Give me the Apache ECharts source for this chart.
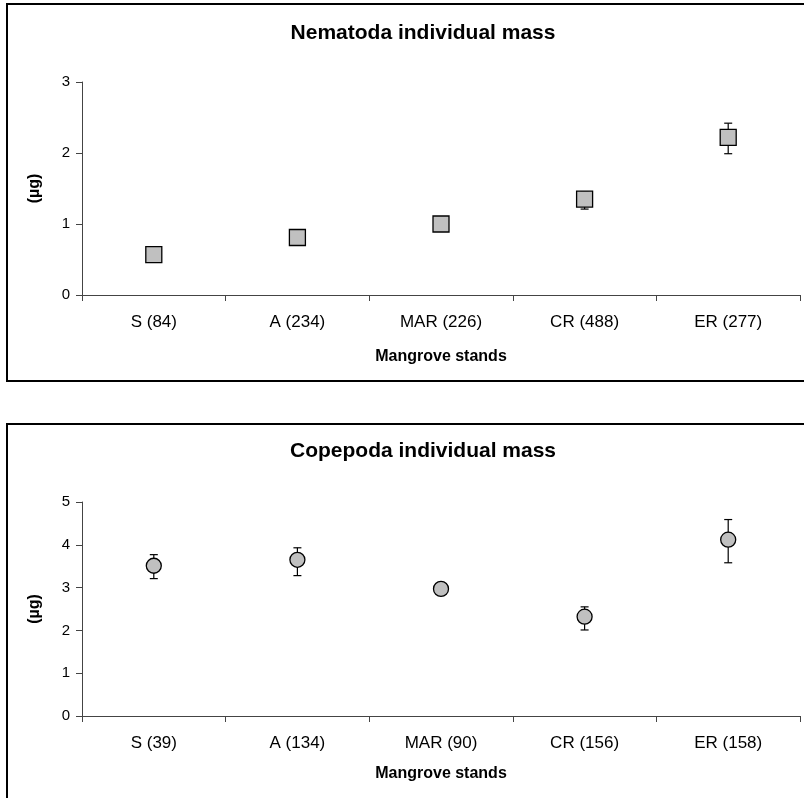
<!DOCTYPE html>
<html>
<head>
<meta charset="utf-8">
<title>Individual mass</title>
<script src="https://cdn.jsdelivr.net/npm/echarts@6/dist/echarts.min.js"></script>
<style>
  html, body { margin: 0; padding: 0; background: #fff; }
  #main { width: 804px; height: 798px; }
</style>
</head>
<body>
<div id="main"></div>
<script>
// Nematoda (top panel)
var nemaCats = ['S (84)', 'A (234)', 'MAR (226)', 'CR (488)', 'ER (277)'];
var nemaMean = [0.57, 0.81, 1.00, 1.35, 2.22];
var nemaLow  = [0.47, 0.74, 0.93, 1.21, 1.99];
var nemaHigh = [0.62, 0.86, 1.05, 1.45, 2.42];

// Copepoda (bottom panel)
var copeCats = ['S (39)', 'A (134)', 'MAR (90)', 'CR (156)', 'ER (158)'];
var copeMean = [3.51, 3.65, 2.97, 2.32, 4.12];
var copeLow  = [3.21, 3.28, 2.90, 2.01, 3.58];
var copeHigh = [3.77, 3.93, 3.05, 2.55, 4.59];

var font = 'Liberation Sans, Arial, sans-serif';

function errData(low, high) {
  var out = [];
  for (var i = 0; i < low.length; i++) out.push([i, low[i], high[i]]);
  return out;
}

// whisker drawn behind the marker
function renderErr(params, api) {
  var lo = api.coord([api.value(0), api.value(1)]);
  var hi = api.coord([api.value(0), api.value(2)]);
  var cap = 4;
  var st = { stroke: '#000', lineWidth: 1.2 };
  return {
    type: 'group',
    children: [
      { type: 'line', shape: { x1: lo[0], y1: lo[1], x2: hi[0], y2: hi[1] }, style: st },
      { type: 'line', shape: { x1: lo[0] - cap, y1: lo[1], x2: lo[0] + cap, y2: lo[1] }, style: st },
      { type: 'line', shape: { x1: hi[0] - cap, y1: hi[1], x2: hi[0] + cap, y2: hi[1] }, style: st }
    ]
  };
}

function xAxisOf(idx, cats, nameGap) {
  return {
    type: 'category', gridIndex: idx, data: cats,
    boundaryGap: true,
    name: 'Mangrove stands', nameLocation: 'middle', nameGap: nameGap,
    nameTextStyle: { fontFamily: font, fontWeight: 'bold', fontSize: 16, color: '#000' },
    axisLine: { lineStyle: { color: '#444', width: 1 } },
    axisTick: { show: true, length: 6, lineStyle: { color: '#444' } },
    axisLabel: { fontFamily: font, fontSize: 17, color: '#000', margin: 19 },
    splitLine: { show: false }
  };
}

function yAxisOf(idx, max) {
  return {
    type: 'value', gridIndex: idx, min: 0, max: max, interval: 1,
    name: '(µg)', nameLocation: 'middle', nameGap: 39, nameRotate: 90,
    nameTextStyle: { fontFamily: font, fontWeight: 'bold', fontSize: 16, color: '#000' },
    axisLine: { show: true, lineStyle: { color: '#444', width: 1 } },
    axisTick: { show: true, length: 6, lineStyle: { color: '#444' } },
    axisLabel: { fontFamily: font, fontSize: 15, color: '#000', margin: 12 },
    splitLine: { show: false }
  };
}

var markerStyle = { color: '#c0c0c0', borderColor: '#000', borderWidth: 1.3, opacity: 1 };

var option = {
  animation: false,
  backgroundColor: '#fff',
  title: [
    { text: 'Nematoda individual mass', left: 418, top: 18, textAlign: 'center',
      textStyle: { fontFamily: font, fontWeight: 'bold', fontSize: 21, color: '#000' } },
    { text: 'Copepoda individual mass', left: 418, top: 436, textAlign: 'center',
      textStyle: { fontFamily: font, fontWeight: 'bold', fontSize: 21, color: '#000' } }
  ],
  graphic: [
    { type: 'rect', shape: { x: 7, y: 4, width: 810, height: 377 },
      style: { fill: 'none', stroke: '#000', lineWidth: 2 }, z: 0 },
    { type: 'rect', shape: { x: 7, y: 424, width: 810, height: 390 },
      style: { fill: 'none', stroke: '#000', lineWidth: 2 }, z: 0 }
  ],
  grid: [
    { left: 82, top: 82, width: 718, height: 213 },
    { left: 82, top: 502, width: 718, height: 214 }
  ],
  xAxis: [xAxisOf(0, nemaCats, 54), xAxisOf(1, copeCats, 50)],
  yAxis: [yAxisOf(0, 3), yAxisOf(1, 5)],
  series: [
    { type: 'custom', xAxisIndex: 0, yAxisIndex: 0, renderItem: renderErr,
      data: errData(nemaLow, nemaHigh), z: 1, silent: true },
    { type: 'scatter', xAxisIndex: 0, yAxisIndex: 0, symbol: 'rect', symbolSize: 16,
      itemStyle: markerStyle, data: nemaMean, z: 3 },
    { type: 'custom', xAxisIndex: 1, yAxisIndex: 1, renderItem: renderErr,
      data: errData(copeLow, copeHigh), z: 1, silent: true },
    { type: 'scatter', xAxisIndex: 1, yAxisIndex: 1, symbol: 'circle', symbolSize: 15,
      itemStyle: markerStyle, data: copeMean, z: 3 }
  ]
};

var myChart = echarts.init(document.getElementById('main'));
myChart.setOption(option);
</script>
</body>
</html>
